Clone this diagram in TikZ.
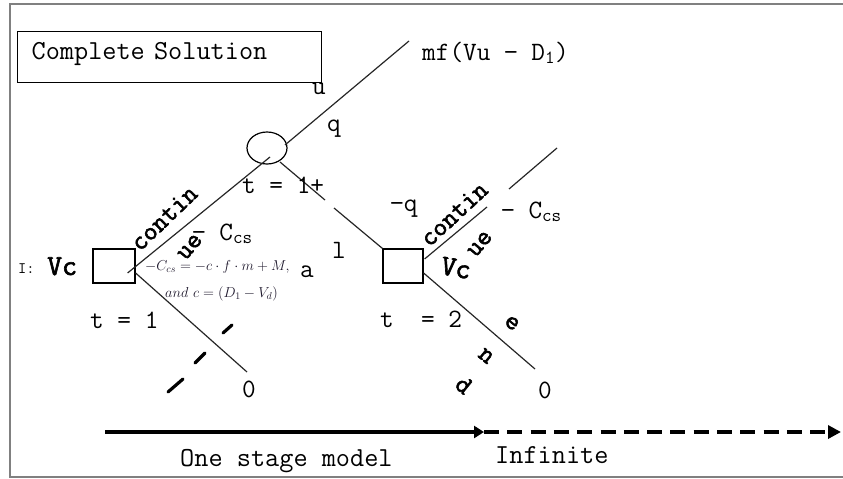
\documentclass[tikz,border=0pt]{standalone}
\usepackage{fontspec}
\newfontfamily\heavytt{Latin Modern Mono}[FakeBold=2.2]
\usetikzlibrary{shapes.geometric, arrows.meta, calc}
\definecolor{formulaink}{RGB}{30,24,44}

\begin{document}
\begin{tikzpicture}[x=1pt, y=-1pt,
    lbl/.style={font=\ttfamily\fontsize{26.5}{26.5}\selectfont, inner sep=0pt},
    biglbl/.style={font=\ttfamily\fontsize{27.5}{27.5}\selectfont, inner sep=0pt},
    blbl/.style={font=\heavytt\fontsize{26.5}{26.5}\selectfont, inner sep=0pt},
    vclbl/.style={font=\heavytt\fontsize{29}{29}\selectfont, inner sep=0pt},
    decision/.style={draw, line width=1.2pt, minimum width=42pt, minimum height=34pt, inner sep=0pt},
    branch/.style={draw=black!85, line width=1.2pt},
    formula/.style={font=\fontsize{14.4}{14.4}\selectfont, text=formulaink, inner sep=0pt}]
    \useasboundingbox (0,0) rectangle (843,479);
    \draw[black!50, line width=1.8pt] (10,4) rectangle (870,477);

    \node[draw, line width=1.2pt, anchor=north west, biglbl, inner xsep=14pt, text width=276pt,
          minimum height=51pt, text height=17pt, text depth=12pt, align=left] (title) at (17,31) {Complete Solution};

    \node[decision] (dec1) at (114,266) {};
    \node[decision, minimum width=40pt] (dec2) at (403,266) {};
    \node[draw, ellipse, line width=1.2pt, minimum width=40pt, minimum height=32pt, inner sep=0pt] (chance) at (267,148) {};

    \coordinate (upTip) at (409,41);
    \coordinate (gapA) at (325,200);
    \coordinate (gapB) at (334,208);
    \coordinate (cutA) at (487,207);
    \coordinate (cutB) at (509,189);
    \coordinate (contTip) at (557,148);
    \coordinate (stop1) at (247,372);
    \coordinate (stop2) at (535,369);

    \draw[branch] ($(dec1.east)+(-8,7)$) -- ($(chance.center)+(3,9)$);
    \draw[branch] ($(chance.center)+(18,-3)$) -- (upTip);
    \draw[branch] ($(chance.center)+(13,14)$) -- (gapA);
    \draw[branch] (gapB) -- (dec2.north west);
    \draw[branch] ($(dec2.east)+(1,-7)$) -- (cutA);
    \draw[branch] (cutB) -- (contTip);
    \draw[branch] ($(dec1.east)+(0,7)$) -- (stop1);
    \draw[branch] ($(dec2.east)+(0,7)$) -- (stop2);

    \node[lbl, anchor=base west] (payoff) at (422,60) {mf(Vu − D\textsubscript{1})};
    \node[lbl, anchor=base] (uLbl) at (319,94) {u};
    \node[lbl, anchor=base] (qLbl) at (334,131) {q};
    \node[lbl, anchor=base west] (tOnePlus) at (242,193) {t = 1+};
    \node[lbl, anchor=base west] (negq) at (390,211) {−q};
    \node[lbl, anchor=base] (lLbl) at (339,258) {l};
    \node[lbl, anchor=base] (aLbl) at (307,277) {a};
    \node[lbl, anchor=base west] (tOne) at (90,328) {t = 1};
    \node[lbl, anchor=base west] (tTwo) at (380,327) {t\ \ = 2};
    \node[lbl, anchor=base] (zero1) at (249,397) {0};
    \node[lbl, anchor=base] (zero2) at (545,398) {0};
    \node[lbl, anchor=base west] (cost1) at (192,240) {− C\textsubscript{cs}};
    \node[lbl, anchor=base west] (cost2) at (501,218) {− C\textsubscript{cs}};

    \node[font=\ttfamily\fontsize{16}{16}\selectfont, inner sep=0pt, anchor=base west] (iLbl) at (18,273) {I:};
    \node[vclbl, anchor=base west] (vc1) at (47,275) {Vc};
    \node[vclbl, rotate=-10] (vc2) at (456,268) {Vc};

    \node[blbl, rotate=44] (contin1) at (164,218) {contin};
    \node[blbl, rotate=50] (ue1) at (190,247) {ue};
    \node[blbl, rotate=43] (contin2) at (454,214) {contin};
    \node[blbl, rotate=50] (ue2) at (480,244) {ue};
    \node[blbl, rotate=-39] (endE) at (512,323) {e};
    \node[blbl, rotate=-39] (endN) at (486,356) {n};
    \node[blbl, rotate=-39] (endD) at (464,385) {d};
    \foreach \a/\b in {{(223,333)}/{(232,325)}, {(195,363)}/{(205,353)}, {(168,392)}/{(183,379)}}
        \draw[line width=3.2pt, line cap=round] \a -- \b;

    \node[formula, anchor=base west] (costA) at (145,270) {$-C_{cs}=-c\cdot f\cdot m+M,$};
    \node[formula, anchor=base west] (costB) at (165,297) {$and\ c=(D_{1}-V_{d})$};

    \coordinate (tStart) at (105,432);
    \coordinate (tMid) at (484,432);
    \coordinate (tEnd) at (841,432);
    \draw[line width=4.5pt, -{Triangle[length=10pt, width=12pt]}] (tStart) -- (tMid);
    \draw[line width=4.5pt, dash pattern=on 15pt off 8.3pt, -{Triangle[length=13pt, width=13pt]}] (tMid) -- (tEnd);
    \node[biglbl, anchor=base west] (oneStage) at (180,466) {One stage model};
    \node[biglbl, anchor=base west] (infinite) at (495,463) {Infinite};
\end{tikzpicture}
\end{document}
